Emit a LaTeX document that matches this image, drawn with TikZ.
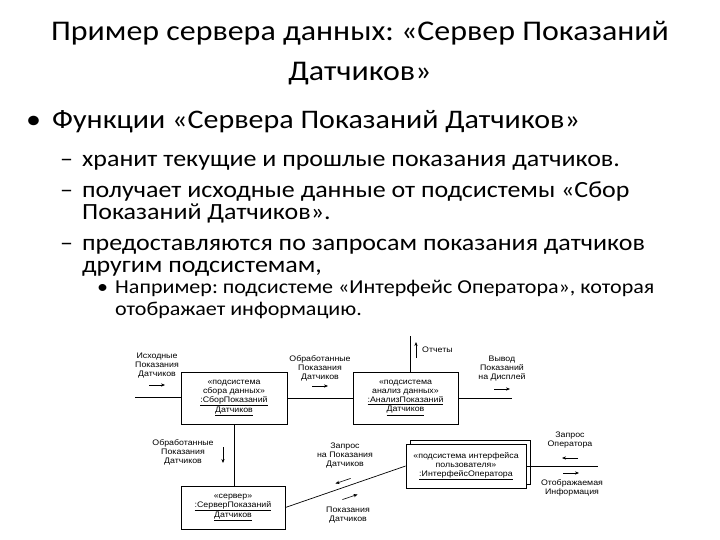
\documentclass[tikz,border=0pt]{standalone}
\usepackage{fontspec}
\setmainfont{Carlito}
\newfontfamily\slidefont[FakeStretch=1.12]{Carlito}
\newfontfamily\dfont[FakeStretch=1.1]{Liberation Sans}
\usetikzlibrary{shadows,arrows.meta}
\frenchspacing
\tikzset{
  ttl/.style={anchor=base, inner sep=0pt, font=\slidefont\fontsize{28.5}{34}\selectfont},
  lone/.style={anchor=base west, inner sep=0pt, font=\slidefont\fontsize{26.8}{30}\selectfont},
  ltwo/.style={anchor=base west, inner sep=0pt, font=\slidefont\fontsize{23.2}{27}\selectfont},
  lthree/.style={anchor=base west, inner sep=0pt, font=\slidefont\fontsize{19.7}{23}\selectfont},
  obj/.style={draw, line width=0.8pt, fill=white, align=center, inner sep=1pt,
    font=\dfont\fontsize{8}{9}\selectfont},
  lbl/.style={align=center, inner sep=0pt, font=\dfont\fontsize{8}{9}\selectfont},
  flow/.style={-{Stealth[length=4pt,width=3.2pt]}, line width=0.6pt},
  link/.style={line width=0.7pt}
}
\begin{document}
\frenchspacing
\begin{tikzpicture}[x=1pt,y=-1pt]
\useasboundingbox[fill=white] (0,0) rectangle (720,540);
% title
\node[ttl] (t1) at (360,41) {Пример сервера данных: «Сервер Показаний};
\node[ttl] (t2) at (360,81) {Датчиков»};
% bullets
\node[lone] (b1) at (26,129) {•};
\node[lone] (l1) at (52,129) {Функции «Сервера Показаний Датчиков»};
\node[ltwo] (d1) at (60,167) {–};
\node[ltwo] (l21) at (82,167) {хранит текущие и прошлые показания датчиков.};
\node[ltwo] (d2) at (60,197) {–};
\node[ltwo] (l22) at (82,197) {получает исходные данные от подсистемы «Сбор};
\node[ltwo] (l23) at (82,220) {Показаний Датчиков».};
\node[ltwo] (d3) at (60,250) {–};
\node[ltwo] (l24) at (82,250) {предоставляются по запросам показания датчиков};
\node[ltwo] (l25) at (82,272) {другим подсистемам,};
\node[lthree] (b3) at (97,293) {•};
\node[lthree] (l31) at (115,293) {Например: подсистеме «Интерфейс Оператора», которая};
\node[lthree] (l32) at (115,315) {отображает информацию.};
% diagram objects
\node[obj, minimum width=106pt, minimum height=52pt] (sbor) at (234,398)
  {«подсистема\\сбора данных»\\\underline{:СборПоказаний}\\\underline{Датчиков}};
\node[obj, minimum width=105pt, minimum height=52pt] (anal) at (405.5,398)
  {«подсистема\\анализ данных»\\\underline{:АнализПоказаний}\\\underline{Датчиков}};
\node[obj, minimum width=104pt, minimum height=43pt] (serv) at (233,507.5)
  {«сервер»\\\underline{:СерверПоказаний}\\\underline{Датчиков}};
\node[obj, minimum width=120pt, minimum height=44pt,
  copy shadow={shadow xshift=4pt, shadow yshift=4pt}] (oper) at (466,466)
  {«подсистема интерфейса\\пользователя»\\\underline{:ИнтерфейсОператора}};
% free ends
\coordinate (in) at (135,397);
\coordinate (rep) at (410,336);
\coordinate (disp) at (512,398);
\coordinate (opr) at (598,466);
% links
\draw[link] (in) -- (sbor.west |- in);
\draw[link] (sbor.east) -- (anal.west);
\draw[link] (rep) -- (rep |- anal.north);
\draw[link] (anal.east |- disp) -- (disp);
\draw[link] (sbor.south) -- (sbor.south |- serv.north);
\draw[link] (serv.east) -- (oper.west);
\draw[link] (oper.east) -- (opr);
% labels
\node[lbl] (f1) at (157,366) {Исходные\\Показания\\Датчиков};
\coordinate (f1a) at (149,385); \coordinate (f1b) at (165,385);
\draw[flow] (f1a) -- (f1b);
\node[lbl] (f2) at (320,368) {Обработанные\\Показания\\Датчиков};
\coordinate (f2a) at (312,386); \coordinate (f2b) at (328,386);
\draw[flow] (f2a) -- (f2b);
\node[lbl, anchor=west] (f3) at (422,350) {Отчеты};
\coordinate (f3a) at (416,358); \coordinate (f3b) at (416,342);
\draw[flow] (f3a) -- (f3b);
\node[lbl] (f4) at (502,369) {Вывод\\Показаний\\на Дисплей};
\coordinate (f4a) at (494,389); \coordinate (f4b) at (510,389);
\draw[flow] (f4a) -- (f4b);
\node[lbl] (f5) at (183,452) {Обработанные\\Показания\\Датчиков};
\coordinate (f5a) at (223,447); \coordinate (f5b) at (223,463);
\draw[flow] (f5a) -- (f5b);
\node[lbl] (f6) at (345,456) {Запрос\\на Показания\\Датчиков};
\coordinate (f6a) at (350.6,478.4); \coordinate (f6b) at (335.4,483.6);
\draw[flow] (f6a) -- (f6b);
\node[lbl] (f7) at (348,515) {Показания\\Датчиков};
\coordinate (f7a) at (342.4,499.6); \coordinate (f7b) at (357.6,494.4);
\draw[flow] (f7a) -- (f7b);
\node[lbl] (f8) at (570,440.5) {Запрос\\Оператора};
\coordinate (f8a) at (578,458); \coordinate (f8b) at (562,458);
\draw[flow] (f8a) -- (f8b);
\node[lbl] (f9) at (572,487.5) {Отображаемая\\Информация};
\coordinate (f9a) at (563,473); \coordinate (f9b) at (579,473);
\draw[flow] (f9a) -- (f9b);
\end{tikzpicture}
\end{document}
